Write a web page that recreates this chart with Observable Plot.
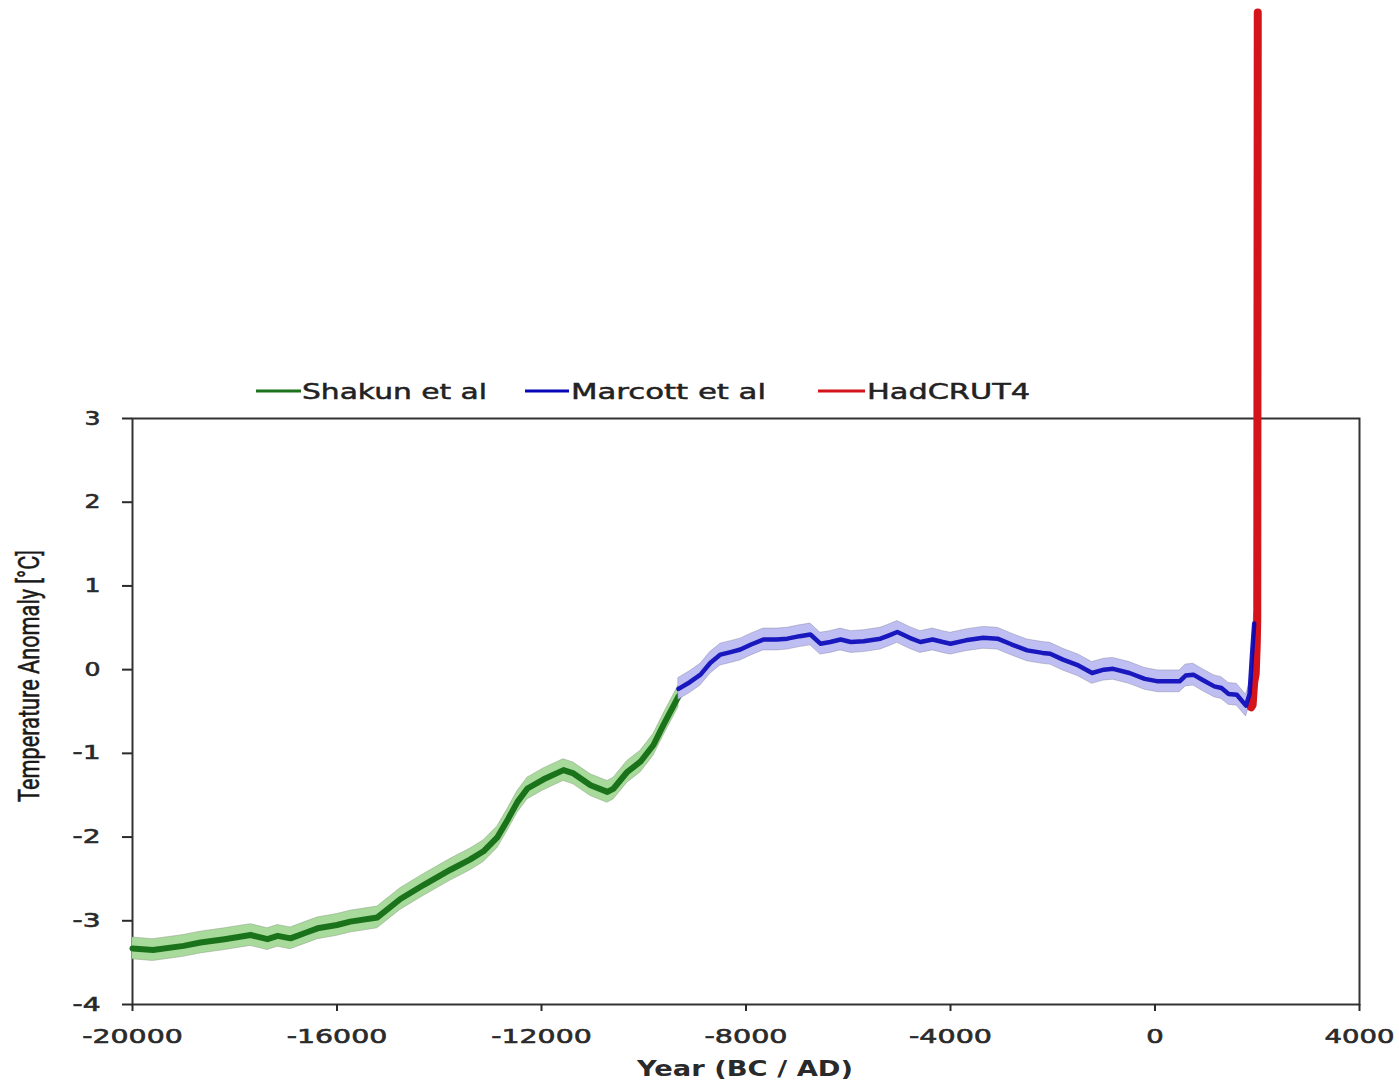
<!DOCTYPE html>
<html><head><meta charset="utf-8">
<script src="https://cdn.jsdelivr.net/npm/d3@7"></script>
<script src="https://cdn.jsdelivr.net/npm/@observablehq/plot@0.6"></script>
<style>
body{margin:0;background:#fff;overflow:hidden}
#chart{width:1399px;height:1080px;position:relative}
</style>
</head><body><div id="chart"></div>
<script>
// Shakun et al (green)
const shakunYear = [-20000,-19600,-19000,-18670,-18200,-17690,-17360,-17160,-16910,-16600,-16380,-16000,-15740,-15210,-14760,-14300,-13780,-13400,-13135,-12860,-12650,-12470,-12275,-11960,-11570,-11375,-11040,-10710,-10590,-10320,-10065,-9810,-9615,-9320];
const shakunTemp = [-3.33,-3.35,-3.30,-3.26,-3.22,-3.17,-3.22,-3.18,-3.21,-3.14,-3.09,-3.05,-3.01,-2.96,-2.74,-2.57,-2.39,-2.27,-2.17,-2.00,-1.78,-1.58,-1.42,-1.31,-1.20,-1.24,-1.38,-1.46,-1.42,-1.22,-1.10,-0.90,-0.66,-0.32];
const shakunUnc = 0.13;

// Marcott et al (blue)
const marcottYear = [-9320,-9100,-8890,-8700,-8500,-8300,-8110,-7900,-7660,-7400,-7190,-6950,-6740,-6545,-6350,-6150,-5950,-5700,-5370,-5200,-5040,-4800,-4590,-4350,-4150,-4000,-3700,-3360,-3080,-2800,-2500,-2200,-2050,-1800,-1500,-1230,-1000,-820,-500,-200,60,300,480,600,750,950,1160,1300,1440,1600,1780,1850,1900,1940];
const marcottTemp = [-0.23,-0.15,-0.06,0.08,0.18,0.21,0.24,0.30,0.36,0.36,0.37,0.40,0.42,0.31,0.33,0.36,0.33,0.34,0.37,0.41,0.45,0.38,0.33,0.36,0.33,0.31,0.35,0.38,0.37,0.30,0.23,0.20,0.19,0.12,0.05,-0.04,0.00,0.01,-0.04,-0.11,-0.14,-0.14,-0.14,-0.07,-0.06,-0.13,-0.20,-0.22,-0.29,-0.30,-0.43,-0.29,0.20,0.55];
const marcottUnc = 0.13;

// HadCRUT4 (red)
const hadYear = [1880,1910,1940,1970,1990,2000,2010];
const hadTemp = [-0.45,-0.42,-0.15,-0.05,0.30,0.60,7.85];

const seriesNames = ["Shakun et al", "Marcott et al", "HadCRUT4"];
const seriesColors = ["#1a731a", "#0606b8", "#d5131b"];
const bandColors = ["#a8da9c", "#bebef2"];
const xTicks = [-20000,-16000,-12000,-8000,-4000,0,4000];
const yTicks = [-4,-3,-2,-1,0,1,2,3];
const xLabel = "Year (BC / AD)";
const yLabel = "Temperature Anomaly [°C]";

const shakun = shakunYear.map((x, i) => ({x, y: shakunTemp[i]}));
const marcott = marcottYear.map((x, i) => ({x, y: marcottTemp[i]}));
const had = hadYear.map((x, i) => ({x, y: hadTemp[i]}));

const plot = Plot.plot({
  width: 1399, height: 1080,
  marginTop: 418, marginBottom: 76, marginLeft: 132, marginRight: 40,
  style: {background: "#fff", fontFamily: "DejaVu Sans, sans-serif", color: "#2a2a2a"},
  x: {domain: [-20000, 4000]},
  y: {domain: [-4, 3]},
  marks: [
    Plot.frame({stroke: "#333", strokeWidth: 2}),
    Plot.axisX({ticks: xTicks, tickFormat: d => String(d), label: null, tickSize: 7, tickPadding: 17, fontSize: 20, strokeWidth: 2}),
    Plot.axisY({ticks: yTicks, tickFormat: d => String(d), label: null, tickSize: 10, tickPadding: 22, fontSize: 19, strokeWidth: 2}),
    Plot.areaY(shakun, {x: "x", y1: d => d.y - shakunUnc, y2: d => d.y + shakunUnc, fill: bandColors[0], stroke: "#8a9a80", strokeWidth: 0.8, strokeOpacity: 0.6}),
    Plot.line(shakun, {x: "x", y: "y", stroke: seriesColors[0], strokeWidth: 6}),
    Plot.areaY(marcott, {x: "x", y1: d => d.y - marcottUnc, y2: d => d.y + marcottUnc, fill: bandColors[1], stroke: "#8a8aa8", strokeWidth: 0.8, strokeOpacity: 0.6}),
    Plot.line(had, {x: "x", y: "y", stroke: seriesColors[2], strokeWidth: 8}),
    Plot.line(marcott, {x: "x", y: "y", stroke: seriesColors[1], strokeWidth: 4.5, strokeOpacity: 0.9})
  ]
});
document.getElementById("chart").appendChild(plot);

const svg = d3.select(plot);
function widthOf(t, digit, hyph) {
  let w = 0;
  for (const c of t) w += (c === "-" ? hyph : digit);
  return w;
}
svg.selectAll('g[aria-label="x-axis tick label"] text').each(function() {
  const t = this.textContent;
  this.setAttribute("textLength", widthOf(t, 17.5, 13));
  this.setAttribute("lengthAdjust", "spacingAndGlyphs");
  this.setAttribute("stroke", "#2a2a2a");
  this.setAttribute("stroke-width", 0.6);
});
svg.selectAll('g[aria-label="y-axis tick label"] text').each(function() {
  const t = this.textContent;
  this.setAttribute("textLength", widthOf(t, 16, 12));
  this.setAttribute("lengthAdjust", "spacingAndGlyphs");
  this.setAttribute("stroke", "#2a2a2a");
  this.setAttribute("stroke-width", 0.6);
});

// Axis titles
svg.append("text")
  .attr("x", 745).attr("y", 1076)
  .attr("text-anchor", "middle")
  .attr("font-family", "DejaVu Sans, sans-serif")
  .attr("font-weight", "bold").attr("font-size", 22)
  .attr("fill", "#2a2a2a")
  .attr("textLength", 216).attr("lengthAdjust", "spacingAndGlyphs")
  .text(xLabel);
svg.append("text")
  .attr("transform", "translate(39,676) rotate(-90)")
  .attr("text-anchor", "middle")
  .attr("font-family", "'Liberation Sans Narrow', 'Roboto', sans-serif")
  .attr("font-size", 29)
  .attr("fill", "#1a1a1a")
  .attr("stroke", "#1a1a1a").attr("stroke-width", 0.5)
  .attr("textLength", 252).attr("lengthAdjust", "spacingAndGlyphs")
  .text(yLabel);

// Legend
const legendPos = [
  {x0: 256, x1: 301, tx: 302, tw: 185},
  {x0: 525, x1: 569, tx: 571, tw: 195},
  {x0: 818, x1: 865, tx: 867, tw: 163}
];
const lg = svg.append("g").attr("aria-label", "legend");
seriesNames.forEach((name, i) => {
  const p = legendPos[i];
  lg.append("line").attr("x1", p.x0).attr("x2", p.x1).attr("y1", 391).attr("y2", 391)
    .attr("stroke", seriesColors[i]).attr("stroke-width", 3);
  lg.append("text").attr("x", p.tx).attr("y", 399)
    .attr("text-anchor", "start")
    .attr("font-family", "DejaVu Sans, sans-serif").attr("font-size", 22)
    .attr("fill", "#222").attr("stroke", "#222").attr("stroke-width", 0.5)
    .attr("textLength", p.tw).attr("lengthAdjust", "spacingAndGlyphs")
    .text(name);
});
</script>
</body></html>
